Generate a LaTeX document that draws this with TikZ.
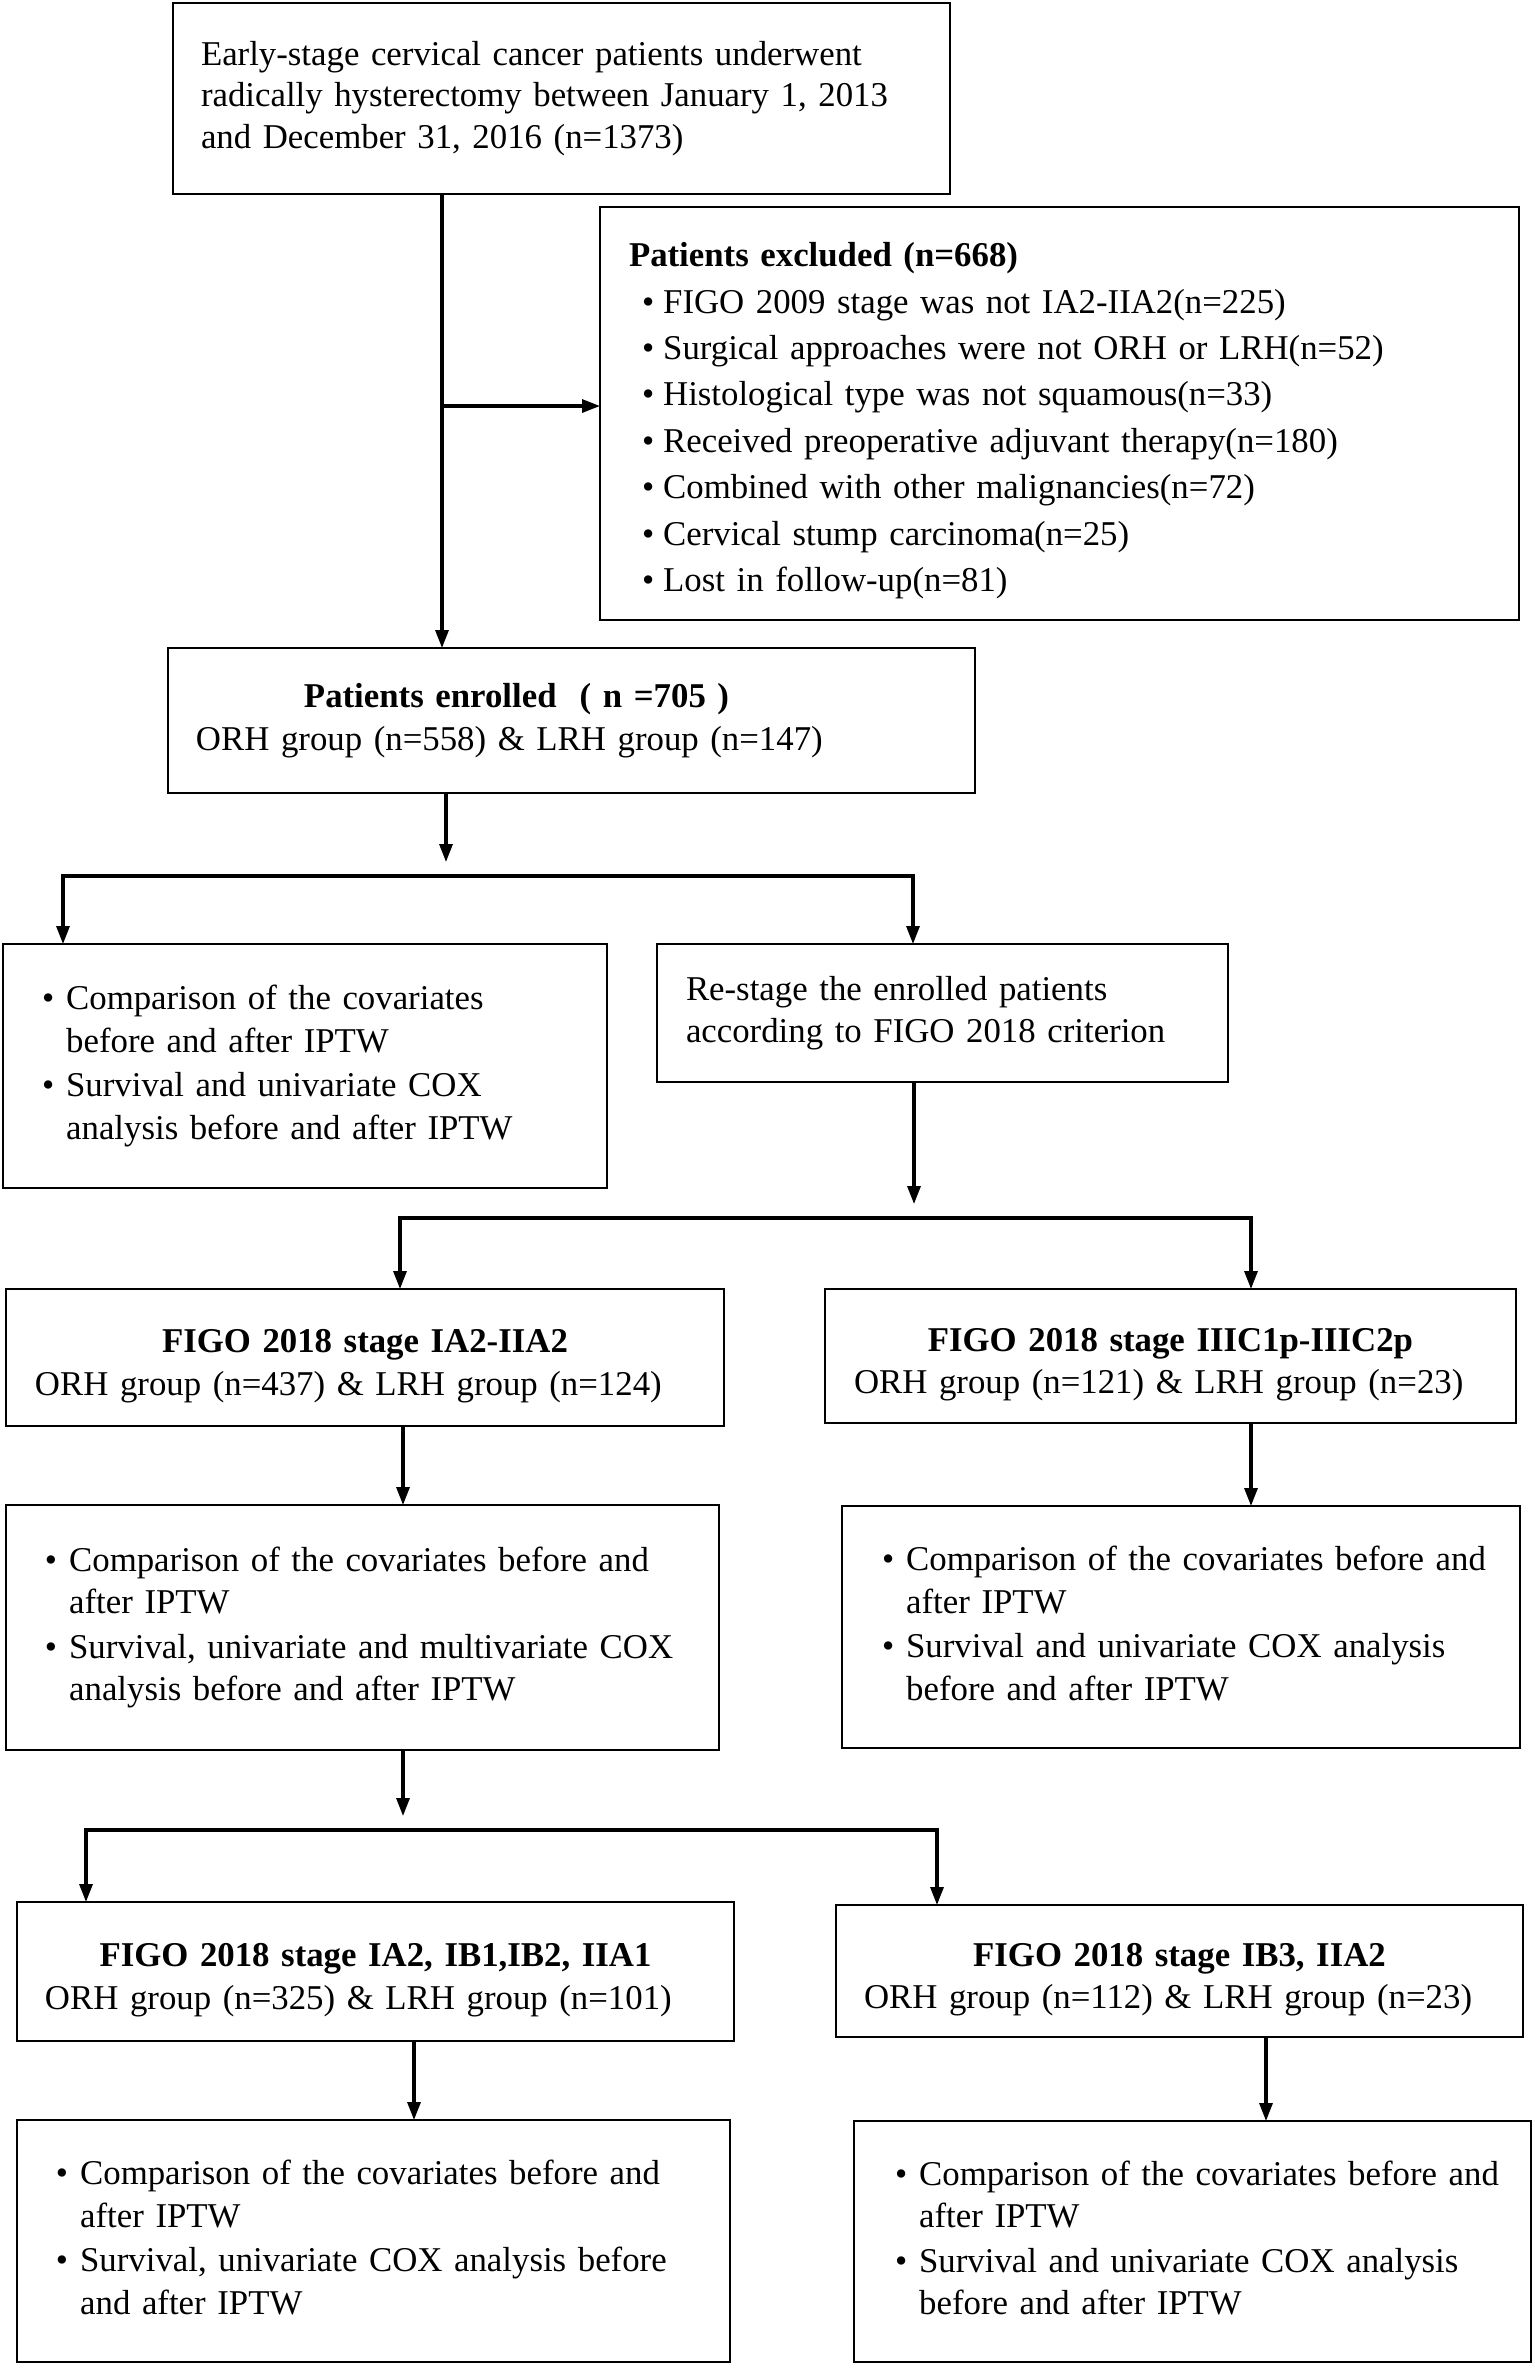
\documentclass[tikz,border=0pt]{standalone}
\usepackage{fontspec}
\setmainfont{Liberation Serif}
\usetikzlibrary{arrows.meta}
\newcommand{\stg}[1]{\rule{0pt}{4mm}\makebox[\linewidth]{\bfseries #1}}
\newenvironment{blist}{\begin{tabular}{@{}l@{\hspace{1.2mm}}l@{}}}{\end{tabular}}

\begin{document}
\begin{tikzpicture}[x=0.1mm,y=-0.1mm,
		box/.style n args={3}{draw,line width=0.65pt,anchor=north west,outer sep=0pt,inner ysep=0pt,
			align=left,font=\fontsize{9.9}{12.1}\selectfont,
			minimum width=#1,minimum height=#2,inner xsep=#3,text width=#1-2*#3},
		arr/.style={line width=0.9pt,-{Triangle[length=1.8mm,width=1.3mm]}},
		split/.style={line width=0.9pt,{Triangle[length=1.8mm,width=1.3mm]}-{Triangle[length=1.8mm,width=1.3mm]}}]
		\useasboundingbox (0,0) rectangle (1535,2372);
		
		\node[box={77.7mm}{19.1mm}{2.8mm},font=\fontsize{9.9}{11.8}\selectfont] (top) at (173,3)
			{Early-stage cervical cancer patients underwent\\radically hysterectomy between January 1, 2013\\and December 31, 2016 (n=1373)};
		\node[box={91.9mm}{41.3mm}{2.9mm},font=\fontsize{9.9}{13.2}\selectfont] (exc) at (600,207)
			{\begin{tabular}{@{\hspace{1.3mm}}l@{\hspace{0.9mm}}l@{}}
				\multicolumn{2}{@{}l@{}}{\rule{0pt}{4.5mm}\bfseries Patients excluded (n=668)}\\
				\textbullet & FIGO 2009 stage was not IA2-IIA2(n=225)\\
				\textbullet & Surgical approaches were not ORH or LRH(n=52)\\
				\textbullet & Histological type was not squamous(n=33)\\
				\textbullet & Received preoperative adjuvant therapy(n=180)\\
				\textbullet & Combined with other malignancies(n=72)\\
				\textbullet & Cervical stump carcinoma(n=25)\\
				\textbullet & Lost in follow-up(n=81)
			\end{tabular}};
		\node[box={80.7mm}{14.5mm}{2.8mm}] (enr) at (168,648)
			{\hspace*{10.8mm}\textbf{Patients enrolled~~( n =705 )}\\ORH group (n=558) \& LRH group (n=147)};
		
		\node[box={60.4mm}{24.4mm}{3.9mm}] (cmpA) at (3,944)
			{\begin{blist}
				\textbullet & Comparison of the covariates\\
				& before and after IPTW\\[0.6pt]
				\textbullet & Survival and univariate COX\\
				& analysis before and after IPTW
			\end{blist}};
		\node[box={57.1mm}{13.8mm}{2.9mm}] (rst) at (657,944)
			{Re-stage the enrolled patients\\according to FIGO 2018 criterion};
		
		\node[box={71.8mm}{13.7mm}{2.9mm}] (fa) at (6,1289)
			{\stg{FIGO 2018 stage IA2-IIA2}\\ORH group (n=437) \& LRH group (n=124)};
		\node[box={69.1mm}{13.4mm}{2.9mm}] (fb) at (825,1289)
			{\stg{FIGO 2018 stage IIIC1p-IIIC2p}\\ORH group (n=121) \& LRH group (n=23)};
		\node[box={71.3mm}{24.5mm}{3.9mm}] (ca) at (6,1505)
			{\begin{blist}
				\textbullet & Comparison of the covariates before and\\
				& after IPTW\\[0.6pt]
				\textbullet & Survival, univariate and multivariate COX\\
				& analysis before and after IPTW
			\end{blist}};
		\node[box={67.8mm}{24.2mm}{4mm}] (cb) at (842,1506)
			{\begin{blist}
				\textbullet & Comparison of the covariates before and\\
				& after IPTW\\[0.6pt]
				\textbullet & Survival and univariate COX analysis\\
				& before and after IPTW
			\end{blist}};
		
		\node[box={71.7mm}{13.9mm}{2.8mm}] (ga) at (17,1902)
			{\stg{FIGO 2018 stage IA2, IB1,IB2, IIA1}\\ORH group (n=325) \& LRH group (n=101)};
		\node[box={68.7mm}{13.2mm}{2.8mm}] (gb) at (836,1905)
			{\stg{FIGO 2018 stage IB3, IIA2}\\ORH group (n=112) \& LRH group (n=23)};
		\node[box={71.3mm}{24.2mm}{3.9mm}] (da) at (17,2120)
			{\begin{blist}
				\textbullet & Comparison of the covariates before and\\
				& after IPTW\\[0.6pt]
				\textbullet & Survival, univariate COX analysis before\\
				& and after IPTW
			\end{blist}};
		\node[box={67.7mm}{24.1mm}{4.1mm}] (db) at (854,2121)
			{\begin{blist}
				\textbullet & Comparison of the covariates before and\\
				& after IPTW\\[0.6pt]
				\textbullet & Survival and univariate COX analysis\\
				& before and after IPTW
			\end{blist}};
		
		\coordinate (t0) at (442,406);
		\draw[arr] (t0 |- top.south) -- (t0 |- enr.north);
		\draw[arr] (t0) -- (t0 -| exc.west);
		
		\foreach \s/\x/\y/\l/\r/\L/\R in {enr/446/876/63/913/cmpA/rst, rst/914/1218/400/1251/fa/fb, ca/403/1830/86/937/ga/gb}{
			\coordinate (bm) at (\x,\y-14);
			\coordinate (bl) at (\l,\y);
			\coordinate (br) at (\r,\y);
			\draw[arr] (bm |- \s.south) -- (bm);
			\draw[split] (bl |- \L.north) -- (bl) -- (br) -- (br |- \R.north);
		}
		\foreach \a/\b/\x in {fa/ca/403, fb/cb/1251, ga/da/414, gb/db/1266}{
			\coordinate (dx) at (\x,0);
			\draw[arr] (dx |- \a.south) -- (dx |- \b.north);
		}
	\end{tikzpicture}
\end{document}
